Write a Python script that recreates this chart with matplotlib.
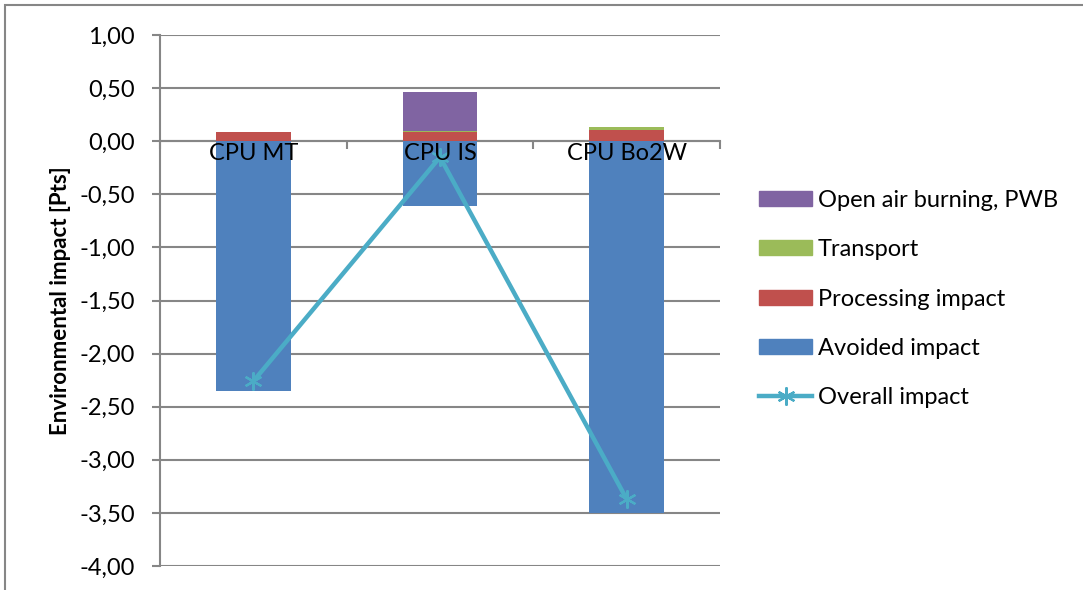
import matplotlib.pyplot as plt
from matplotlib.patches import Patch, Rectangle
from matplotlib.lines import Line2D
import numpy as np

plt.rcParams['font.family'] = ['Lato', 'DejaVu Sans']

# impact per scenario, Pts
categories = ['CPU MT', 'CPU IS', 'CPU Bo2W']
avoided = [-2.35, -0.61, -3.50]
processing = [0.09, 0.09, 0.11]
transport = [0.0, 0.01, 0.02]
burning = [0.0, 0.36, 0.0]
overall = [-2.26, -0.15, -3.37]

yticks = [1.0, 0.5, 0.0, -0.5, -1.0, -1.5, -2.0, -2.5, -3.0, -3.5, -4.0]

c_blue = '#4F81BD'
c_red = '#C0504D'
c_green = '#9BBB59'
c_purple = '#8064A2'
c_line = '#4BACC6'
c_grid = '#868686'
fs = 17

fig = plt.figure(figsize=(10.83, 5.90), dpi=100)
ax = fig.add_axes([160 / 1083, 1 - 566 / 590, 560 / 1083, 531 / 590])

x = np.arange(len(categories))
w = 0.4
ax.bar(x, avoided, w, color=c_blue, zorder=2)
ax.bar(x, processing, w, color=c_red, zorder=2)
bot = np.array(processing)
ax.bar(x, transport, w, bottom=bot, color=c_green, zorder=2)
bot = bot + np.array(transport)
ax.bar(x, burning, w, bottom=bot, color=c_purple, zorder=2)

ax.plot(x, overall, color=c_line, lw=3.2, marker=(6, 2, 0), ms=13,
        mew=1.6, mec=c_line, zorder=3)

ax.set_xlim(-0.5, len(categories) - 0.5)
ax.set_ylim(-4.0, 1.0)
ax.set_yticks(yticks)
ax.set_yticklabels([f'{v:.2f}'.replace('.', ',') for v in yticks], fontsize=fs)
ax.yaxis.grid(True, color=c_grid, lw=1.5)
ax.yaxis.set_zorder(0.5)

# category axis crosses at zero, labels sit on top of the bars
ax.spines['bottom'].set_position(('data', 0))
ax.spines['bottom'].set_color(c_grid)
ax.spines['bottom'].set_linewidth(1.5)
ax.spines['bottom'].set_zorder(0.6)
ax.set_xticks(x)
ax.set_xticklabels(categories, fontsize=fs)
ax.set_xticks(np.arange(len(categories) + 1) - 0.5, minor=True)
ax.tick_params(axis='x', which='major', length=0, pad=1)
ax.tick_params(axis='x', which='minor', length=6, width=1.5, color=c_grid)
ax.xaxis.set_zorder(5)

ax.spines['left'].set_color(c_grid)
ax.spines['left'].set_linewidth(1.5)
ax.spines['top'].set_visible(False)
ax.spines['right'].set_visible(False)
ax.tick_params(axis='y', length=6, width=1.5, color=c_grid, pad=12)

ax.set_ylabel('Environmental impact [Pts]', fontsize=16, fontweight='bold', labelpad=6)

handles = [
    Patch(color=c_purple, label='Open air burning, PWB'),
    Patch(color=c_green, label='Transport'),
    Patch(color=c_red, label='Processing impact'),
    Patch(color=c_blue, label='Avoided impact'),
    Line2D([], [], color=c_line, lw=3.2, marker=(6, 2, 0), ms=13, mew=1.6,
           label='Overall impact'),
]
fig.legend(handles=handles, loc='center left', bbox_to_anchor=(759 / 1083, 1 - 299 / 590),
           frameon=False, fontsize=fs, handlelength=2.25, handleheight=0.6,
           handletextpad=0.25, labelspacing=1.2, borderpad=0, borderaxespad=0)

fig.patches.append(Rectangle((5 / 1083, -0.05), 1.1, 0.05 + 585 / 590,
                             transform=fig.transFigure, fill=False,
                             edgecolor=c_grid, lw=1.5))

fig.savefig('out.png', dpi=100)
